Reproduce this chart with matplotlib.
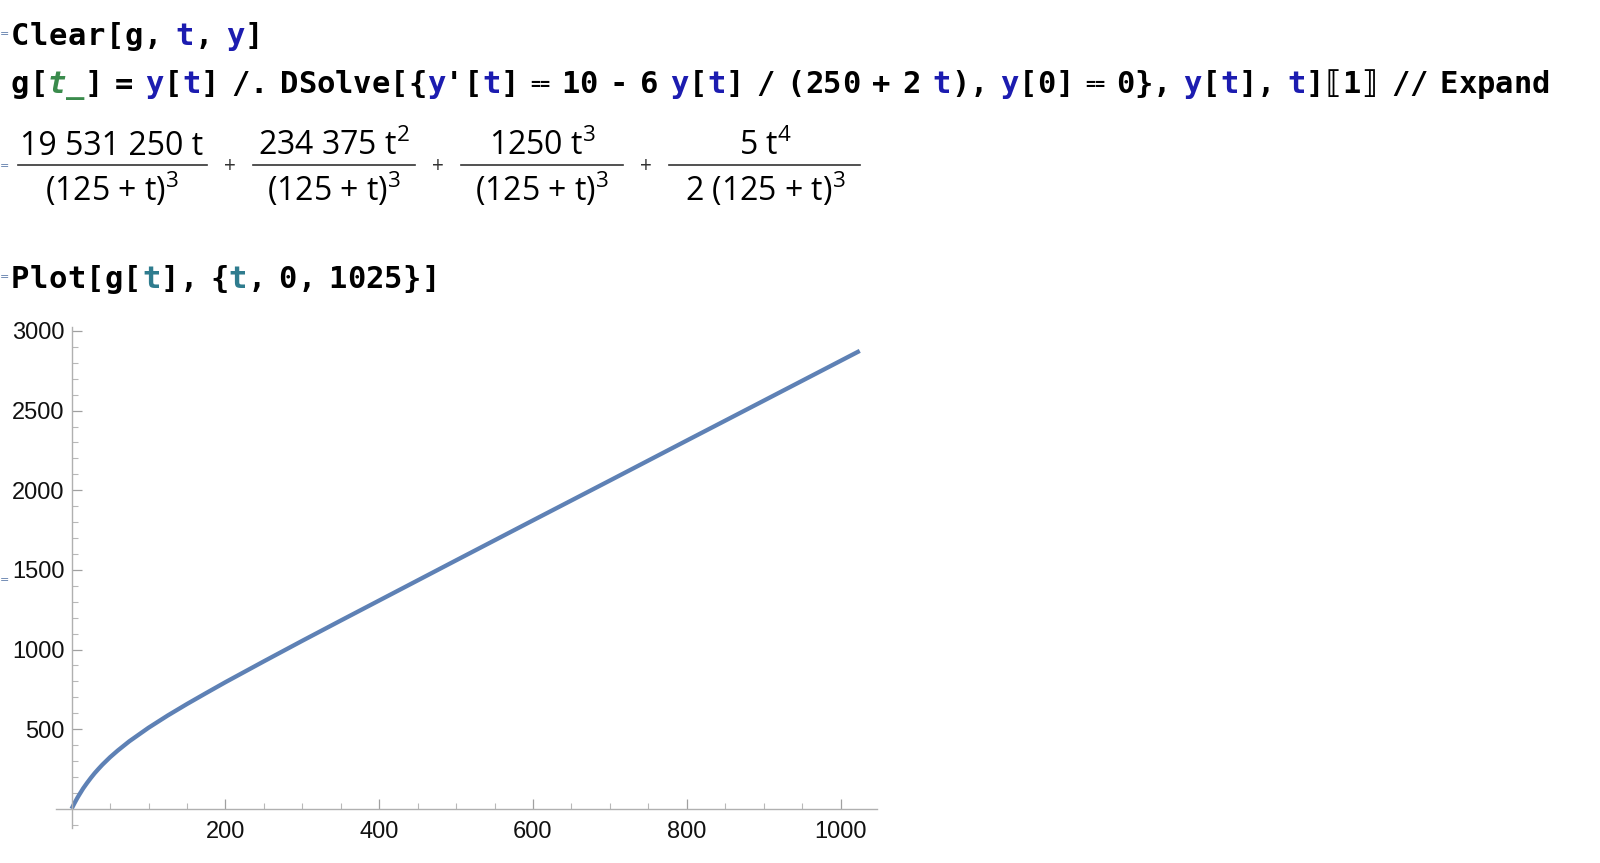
import matplotlib
matplotlib.use("Agg")
import matplotlib.pyplot as plt
from matplotlib.lines import Line2D

# values
t_values = [0, 1, 3, 5, 7.5, 10, 15, 20, 25, 30, 35, 40, 50, 60, 75, 100, 125, 150,
            175, 200, 250, 300, 350, 400, 500, 600, 700, 800, 900, 1025]
g_values = [0, 10, 29, 47, 69, 89, 128, 162, 194, 224, 251, 277, 324, 366, 424, 509,
            586, 658, 727, 795, 926, 1055, 1182, 1308, 1560, 1811, 2061, 2312, 2562, 2875]

x_major = [200, 400, 600, 800, 1000]
x_minor = [50, 100, 150, 250, 300, 350, 450, 500, 550, 650, 700, 750,
           850, 900, 950]
y_major = [500, 1000, 1500, 2000, 2500, 3000]
y_minor = [-100, 100, 200, 300, 400, 600, 700, 800, 900, 1100, 1200, 1300, 1400,
           1600, 1700, 1800, 1900, 2100, 2200, 2300, 2400, 2600, 2700, 2800, 2900]

numerators = ["19 531 250 t", "234 375 t$^{2}$", "1250 t$^{3}$", "5 t$^{4}$"]
denominators = ["(125 + t)$^{3}$", "(125 + t)$^{3}$", "(125 + t)$^{3}$", "2 (125 + t)$^{3}$"]

W, H = 1600, 863
K = "#000000"
B = "#1c1cb0"
G = "#3a8b4c"
T = "#2f7c8e"

line1 = [("Clear[g, ", K), ("t", B), (", ", K), ("y", B), ("]", K)]
line2 = [("g[", K), ("t_", G), ("] = ", K), ("y", B), ("[", K), ("t", B),
         ("] /. DSolve[{", K), ("y", B), ("'[", K), ("t", B), ("] \u2a75 10 - 6 ", K),
         ("y", B), ("[", K), ("t", B), ("] / (250 + 2 ", K), ("t", B), ("), ", K),
         ("y", B), ("[0] \u2a75 0}, ", K), ("y", B), ("[", K), ("t", B), ("], ", K),
         ("t", B), ("]\u27e61\u27e7 // Expand", K)]
line3 = [("Plot[g[", K), ("t", T), ("], {", K), ("t", T), (", 0, 1025}]", K)]

plt.rcParams["mathtext.fontset"] = "custom"
plt.rcParams["mathtext.rm"] = "Open Sans"
plt.rcParams["mathtext.it"] = "Open Sans:italic"
plt.rcParams["mathtext.bf"] = "Open Sans:bold"

fig = plt.figure(figsize=(W / 100, H / 100), dpi=100)


def put(x, y, s, **kw):
    return fig.text(x / W, 1 - y / H, s, **kw)


def code(tokens, x0, adv, base):
    # monospace input cell, one character per cell, narrower spaces
    x = x0
    for s, c in tokens:
        for ch in s:
            if ch == " ":
                x += 0.65 * adv
                continue
            if ch == "\u2a75":
                put(x + adv / 2, base - 8, "==", family="DejaVu Sans Mono", fontsize=12,
                    weight="bold", color=c, ha="center", va="center")
            else:
                put(x, base, ch, family=["DejaVu Sans Mono", "DejaVu Sans"], fontsize=22,
                    weight="bold", color=c, va="baseline",
                    style="italic" if c == G else "normal")
            x += adv


code(line1, 11, 19.0, 45)
code(line2, 11, 18.4, 93)
code(line3, 11, 18.7, 288)

# cell markers on the left edge
for y in [34, 166, 277, 580]:
    put(0, y, "=", fontsize=8, color="#5a78a8", va="center")

# expanded solution
centers = [112, 334, 542, 765]
bars = [(18, 207), (253, 415), (461, 623), (669, 860)]
for i in range(4):
    put(centers[i], 155, numerators[i], family="Open Sans", fontsize=23,
        ha="center", va="baseline")
    put(centers[i], 201, denominators[i], family="Open Sans", fontsize=23,
        ha="center", va="baseline")
    x0, x1 = bars[i]
    fig.add_artist(Line2D([x0 / W, x1 / W], [1 - 165 / H, 1 - 165 / H],
                          transform=fig.transFigure, color="#333333", lw=1.2))
for x in [230, 438, 646]:
    put(x, 166, "+", family="Open Sans", fontsize=15, color="#333333",
        ha="center", va="center")

# the plot
ax = fig.add_axes([0.035, 0.0406, 0.5134, 0.5805])
ax.plot(t_values, g_values, color="#5E81B5", lw=3.1, solid_capstyle="butt")
ax.set_xlim(-20.3, 1048)
ax.set_ylim(-120, 3025)

for side in ["top", "right"]:
    ax.spines[side].set_visible(False)
ax.spines["left"].set_position(("data", 0))
ax.spines["bottom"].set_position(("data", 0))
for side in ["left", "bottom"]:
    ax.spines[side].set_color("#b0b0b0")
    ax.spines[side].set_linewidth(1.0)

ax.set_xticks(x_major)
ax.set_xticks(x_minor, minor=True)
ax.set_yticks(y_major)
ax.set_yticks(y_minor, minor=True)
ax.tick_params(which="major", direction="in", length=7, width=0.9, color="#a0a0a0",
               labelsize=17, labelcolor="#111111")
ax.tick_params(which="minor", direction="in", length=4, width=0.8, color="#b8b8b8")
ax.tick_params(axis="x", which="major", pad=9)
ax.tick_params(axis="y", which="major", pad=5)
for lab in ax.get_xticklabels() + ax.get_yticklabels():
    lab.set_family("Liberation Sans")
ax.patch.set_visible(False)

fig.savefig("out.png", dpi=100)
